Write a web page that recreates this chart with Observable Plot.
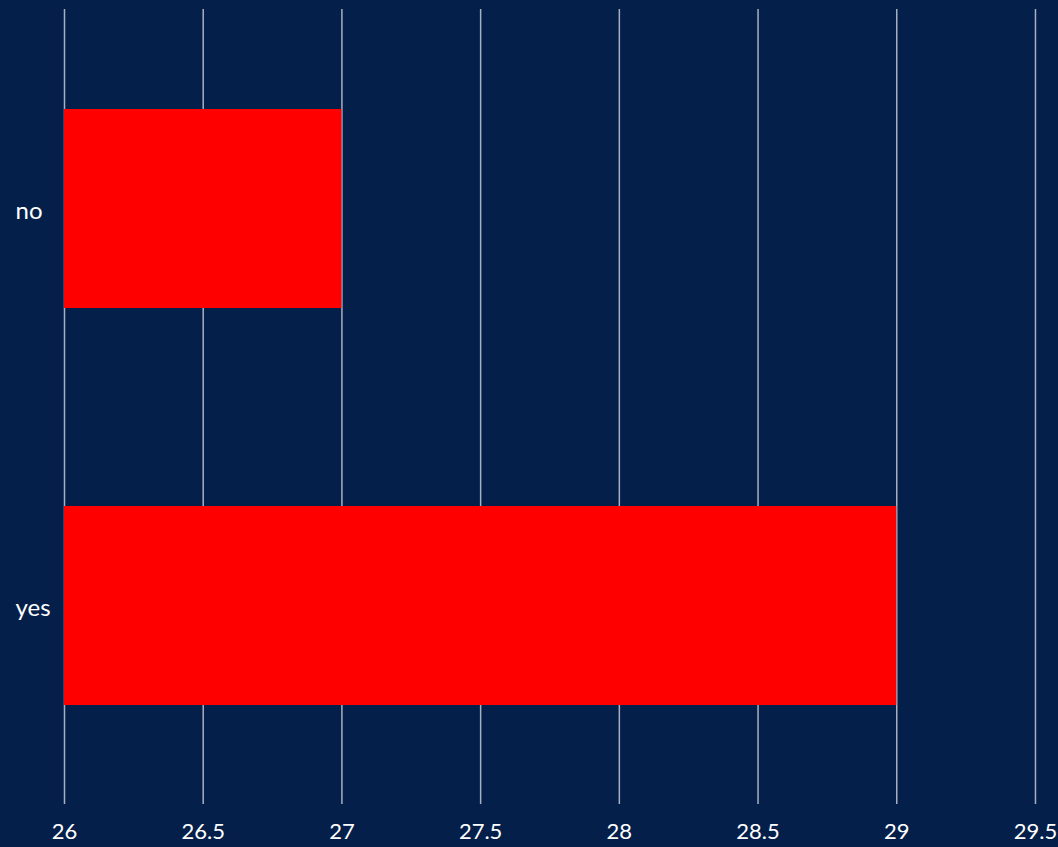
<!DOCTYPE html>
<html>
<head>
<meta charset="utf-8">
<script src="https://cdn.jsdelivr.net/npm/d3@7"></script>
<script src="https://cdn.jsdelivr.net/npm/@observablehq/plot@0.6"></script>
<style>
  html, body { margin: 0; padding: 0; background: #041f4a; }
  #chart svg { display: block; }
</style>
</head>
<body>
<div id="chart"></div>
<script>
const categories = ["no", "yes"];
const values = [27, 29];
const xTicks = [26, 26.5, 27, 27.5, 28, 28.5, 29, 29.5];

const data = categories.map((c, i) => ({category: c, value: values[i]}));

const chart = Plot.plot({
  width: 1058,
  height: 847,
  marginLeft: 64,
  marginRight: 0,
  marginTop: 9,
  marginBottom: 43,
  style: {background: "#041f4a", color: "#ffffff", fontFamily: "Lato", fontSize: "20px"},
  x: {domain: [26, 29.583], ticks: xTicks, label: null},
  y: {domain: categories, paddingInner: 0.5, paddingOuter: 0.25, label: null, axis: null},
  marks: [
    Plot.gridX(xTicks, {stroke: "#ffffff", strokeOpacity: 0.65, strokeWidth: 1.5}),
    Plot.barX(data, {y: "category", x1: 26, x2: "value", fill: "#ff0000"}),
    Plot.axisX(xTicks, {tickSize: 0, tickPadding: 19, fontSize: 22, fill: "#ffffff", label: null, tickFormat: d => String(d)}),
    Plot.text(categories, {y: d => d, text: d => d, frameAnchor: "left", dx: -49, dy: 2, textAnchor: "start", fill: "#ffffff", fontSize: 24})
  ]
});
document.getElementById("chart").appendChild(chart);
</script>
</body>
</html>
